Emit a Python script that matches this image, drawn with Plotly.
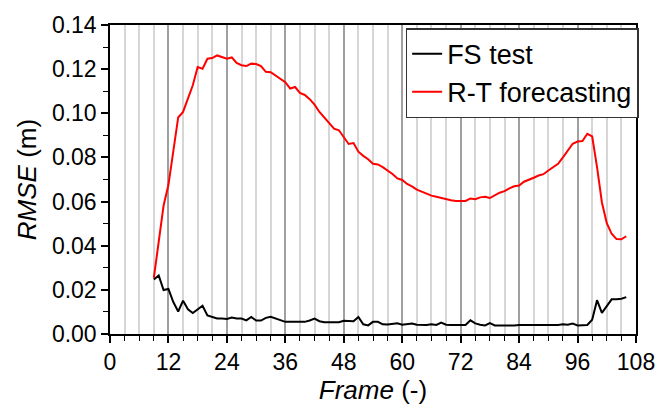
import plotly.graph_objects as go

frames = list(range(9, 107))

fs_test = [
    0.0247, 0.0265, 0.0199, 0.0204, 0.0145, 0.0102, 0.0151, 0.0112, 0.0095, 0.0113,
    0.0128, 0.0084, 0.0078, 0.0070, 0.0070, 0.0068, 0.0075, 0.0070, 0.0070, 0.0062,
    0.0077, 0.0061, 0.0061, 0.0073, 0.0078, 0.0070, 0.0062, 0.0055, 0.0055, 0.0055,
    0.0055, 0.0055, 0.0061, 0.0070, 0.0058, 0.0053, 0.0053, 0.0053, 0.0053, 0.0060,
    0.0058, 0.0058, 0.0077, 0.0044, 0.0039, 0.0055, 0.0055, 0.0044, 0.0043, 0.0047,
    0.0049, 0.0042, 0.0044, 0.0048, 0.0042, 0.0041, 0.0041, 0.0044, 0.0041, 0.0052,
    0.0042, 0.0041, 0.0041, 0.0041, 0.0041, 0.0062, 0.0048, 0.0042, 0.0039, 0.0049,
    0.0039, 0.0039, 0.0038, 0.0040, 0.0038, 0.0041, 0.0041, 0.0042, 0.0040, 0.0042,
    0.0041, 0.0041, 0.0042, 0.0041, 0.0044, 0.0042, 0.0047, 0.0039, 0.0040, 0.0041,
    0.0065, 0.0153, 0.0096, 0.0126, 0.0157, 0.0158, 0.0160, 0.0167,
]

rt_forecast = [
    0.0254, 0.0429, 0.0581, 0.0676, 0.0836, 0.0981, 0.1006, 0.1068, 0.1127, 0.1210,
    0.1202, 0.1247, 0.1250, 0.1262, 0.1256, 0.1247, 0.1253, 0.1228, 0.1218, 0.1214,
    0.1225, 0.1223, 0.1214, 0.1188, 0.1186, 0.1170, 0.1153, 0.1141, 0.1112, 0.1119,
    0.1092, 0.1083, 0.1064, 0.1039, 0.1006, 0.0981, 0.0956, 0.0930, 0.0923, 0.0890,
    0.0861, 0.0865, 0.0826, 0.0807, 0.0792, 0.0771, 0.0768, 0.0756, 0.0741, 0.0725,
    0.0705, 0.0698, 0.0680, 0.0669, 0.0654, 0.0645, 0.0637, 0.0627, 0.0622, 0.0616,
    0.0611, 0.0606, 0.0603, 0.0602, 0.0603, 0.0614, 0.0611, 0.0619, 0.0622, 0.0616,
    0.0628, 0.0640, 0.0647, 0.0660, 0.0669, 0.0673, 0.0690, 0.0698, 0.0708, 0.0718,
    0.0724, 0.0741, 0.0756, 0.0771, 0.0800, 0.0829, 0.0862, 0.0872, 0.0874, 0.0907,
    0.0895, 0.0756, 0.0596, 0.0502, 0.0454, 0.0430, 0.0429, 0.0443,
]

x_ticks = [0, 12, 24, 36, 48, 60, 72, 84, 96, 108]
y_ticks = [0.00, 0.02, 0.04, 0.06, 0.08, 0.10, 0.12, 0.14]

FONT = "Arial, Liberation Sans, sans-serif"

fig = go.Figure()
fig.add_trace(go.Scatter(x=frames, y=fs_test, mode="lines", name="FS test",
                         line=dict(color="black", width=2)))
fig.add_trace(go.Scatter(x=frames, y=rt_forecast, mode="lines", name="R-T forecasting",
                         line=dict(color="#ff0000", width=2)))

fig.update_layout(
    width=667, height=410,
    margin=dict(l=110, r=23, t=19, b=70),
    paper_bgcolor="white", plot_bgcolor="white",
    font=dict(family=FONT, color="black"),
    legend=dict(x=1.005, y=0.99, xanchor="right", yanchor="top",
                font=dict(size=27, family=FONT, color="black"),
                bgcolor="white", bordercolor="#333333", borderwidth=1.5,
                tracegroupgap=0, itemwidth=30),
    showlegend=True,
)

fig.update_xaxes(
    range=[0, 108], tickvals=x_ticks, ticktext=[str(v) for v in x_ticks],
    ticks="outside", ticklen=7, tickwidth=1.5, tickcolor="black",
    showline=True, linecolor="black", linewidth=1.5, mirror=True,
    showgrid=True, gridcolor="#a0a0a0", gridwidth=1.5,
    minor=dict(dtick=3, tick0=0, ticks="outside", ticklen=5, tickwidth=1.2,
               tickcolor="black", showgrid=True, gridcolor="#d6d6d6", gridwidth=2),
    tickfont=dict(size=23, family=FONT),
    title=dict(text="<i>Frame</i> (-)", font=dict(size=26, family=FONT), standoff=4),
    zeroline=False,
)

fig.update_yaxes(
    range=[0, 0.14], tickvals=y_ticks, ticktext=[f"{v:.2f}" for v in y_ticks],
    ticks="outside", ticklen=7, tickwidth=1.5, tickcolor="black",
    showline=True, linecolor="black", linewidth=1.5, mirror=True,
    showgrid=False,
    minor=dict(dtick=0.01, tick0=0, ticks="outside", ticklen=5, tickwidth=1.2,
               tickcolor="black", showgrid=False),
    tickfont=dict(size=23, family=FONT),
    title=dict(text="<i>RMSE</i> (m)", font=dict(size=26, family=FONT), standoff=8),
    zeroline=False,
)

fig.write_html("out.html")
